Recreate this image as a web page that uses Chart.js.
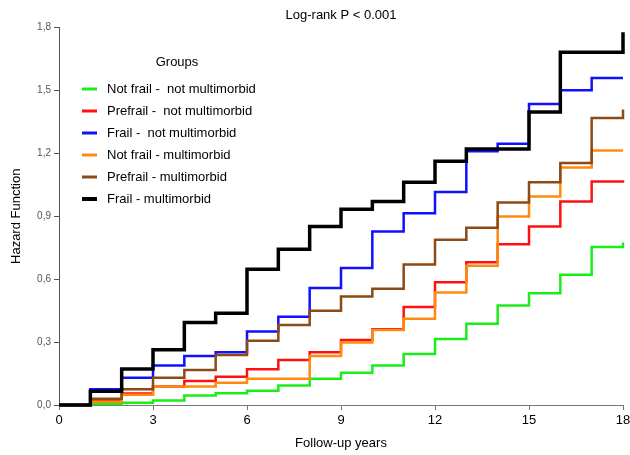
<!DOCTYPE html>
<html lang="en">
<head>
<meta charset="UTF-8">
<title>Hazard Function</title>
<script src="https://cdn.jsdelivr.net/npm/chart.js"></script>
<style>
body { margin:0; background:#fff; }
#wrap { width:630px; height:455px; }
</style>
</head>
<body>
<div id="wrap"><canvas id="hazChart" width="630" height="455"></canvas></div>
<script>
// follow-up years; value at year i holds until year i+1 (last one = end tick at 18)
const years = [0,1,2,3,4,5,6,7,8,9,10,11,12,13,14,15,16,17,18];
const groupNames = [
  'Not frail -  not multimorbid',
  'Prefrail -  not multimorbid',
  'Frail -  not multimorbid',
  'Not frail - multimorbid',
  'Prefrail - multimorbid',
  'Frail - multimorbid'
];
const notFrailNotMM  = [0, 0.005, 0.011, 0.021, 0.045, 0.056, 0.068, 0.093, 0.125, 0.154, 0.188, 0.243, 0.315, 0.387, 0.474, 0.533, 0.621, 0.753, 0.775];
const prefrailNotMM  = [0, 0.024, 0.055, 0.088, 0.115, 0.135, 0.170, 0.215, 0.251, 0.310, 0.361, 0.468, 0.586, 0.681, 0.767, 0.851, 0.971, 1.066, 1.072];
const frailNotMM     = [0, 0.075, 0.130, 0.188, 0.234, 0.251, 0.350, 0.421, 0.558, 0.653, 0.828, 0.915, 1.016, 1.210, 1.246, 1.436, 1.501, 1.560, 1.560];
const notFrailMM     = [0, 0.016, 0.049, 0.088, 0.088, 0.106, 0.125, 0.125, 0.234, 0.298, 0.358, 0.411, 0.536, 0.664, 0.899, 0.995, 1.133, 1.214, 1.214];
const prefrailMM     = [0, 0.030, 0.075, 0.130, 0.167, 0.239, 0.307, 0.382, 0.450, 0.517, 0.554, 0.670, 0.788, 0.845, 0.966, 1.062, 1.154, 1.369, 1.409];
const frailMM        = [0, 0.065, 0.172, 0.263, 0.393, 0.438, 0.648, 0.743, 0.851, 0.934, 0.971, 1.062, 1.162, 1.221, 1.221, 1.398, 1.683, 1.683, 1.778];
const yTicks = [0, 0.3, 0.6, 0.9, 1.2, 1.5, 1.8];
const xTicks = [0, 3, 6, 9, 12, 15, 18];

const seriesList = [notFrailNotMM, prefrailNotMM, frailNotMM, notFrailMM, prefrailMM, frailMM];
const colors = ['#1aee1a', '#ff1010', '#1010ff', '#ff8a10', '#8b4a16', '#000000'];

Chart.defaults.font.family = '"Liberation Sans", Arial, sans-serif';

// legend box drawn inside the plot, like the original
const groupsLegend = {
  id: 'groupsLegend',
  afterDraw(chart) {
    const ctx = chart.ctx;
    const left = chart.chartArea.left;
    ctx.save();
    ctx.font = '13px "Liberation Sans", Arial, sans-serif';
    ctx.fillStyle = '#000';
    ctx.textBaseline = 'middle';
    ctx.textAlign = 'center';
    ctx.fillText('Groups', left + 118, 62);
    ctx.textAlign = 'left';
    chart.data.datasets.forEach((ds, i) => {
      const y = 89 + i * 22;
      ctx.strokeStyle = ds.borderColor;
      ctx.lineWidth = i === 5 ? 4 : 3;
      ctx.beginPath();
      ctx.moveTo(left + 23, y);
      ctx.lineTo(left + 38, y);
      ctx.stroke();
      ctx.fillText(ds.label, left + 48, y);
    });
    ctx.restore();
  }
};

const datasets = seriesList.map((s, i) => ({
  label: groupNames[i],
  data: years.map((yr, j) => ({x: yr, y: s[j]})),
  borderColor: colors[i],
  backgroundColor: colors[i],
  borderWidth: i === 5 ? 3.5 : 2.5,
  stepped: 'before',
  pointRadius: 0,
  fill: false,
  clip: false,
  order: 5 - i
}));

new Chart(document.getElementById('hazChart'), {
  type: 'line',
  data: { datasets: datasets },
  options: {
    responsive: false,
    animation: false,
    layout: { padding: 0 },
    plugins: {
      legend: { display: false },
      tooltip: { enabled: false },
      title: {
        display: true,
        text: 'Log-rank P < 0.001',
        fullSize: false,
        color: '#000',
        font: { size: 13, weight: 'normal' },
        padding: { top: 8, bottom: 4 }
      }
    },
    scales: {
      x: {
        type: 'linear',
        min: 0, max: 18,
        afterBuildTicks: (scale) => { scale.ticks = xTicks.map(v => ({value: v})); },
        afterFit: (scale) => { scale.height = 50; scale.paddingRight = 7; },
        ticks: { color: '#000', font: { size: 13 }, padding: 3 },
        grid: { drawOnChartArea: false, tickLength: 5, color: '#777' },
        border: { color: '#777' },
        title: { display: true, text: 'Follow-up years', color: '#000', font: { size: 13 }, padding: { top: 0, bottom: 4 } }
      },
      y: {
        min: 0, max: 1.8,
        afterBuildTicks: (scale) => { scale.ticks = yTicks.map(v => ({value: v})); },
        afterFit: (scale) => { scale.width = 59; },
        ticks: {
          color: '#555',
          font: { size: 10 },
          padding: 3,
          callback: (v) => v.toFixed(1).replace('.', ',')
        },
        grid: { drawOnChartArea: false, tickLength: 5, color: '#555' },
        border: { color: '#555' },
        title: { display: true, text: 'Hazard Function', color: '#000', font: { size: 13 }, padding: { top: 9, bottom: 0 } }
      }
    }
  },
  plugins: [groupsLegend]
});
</script>
</body>
</html>
